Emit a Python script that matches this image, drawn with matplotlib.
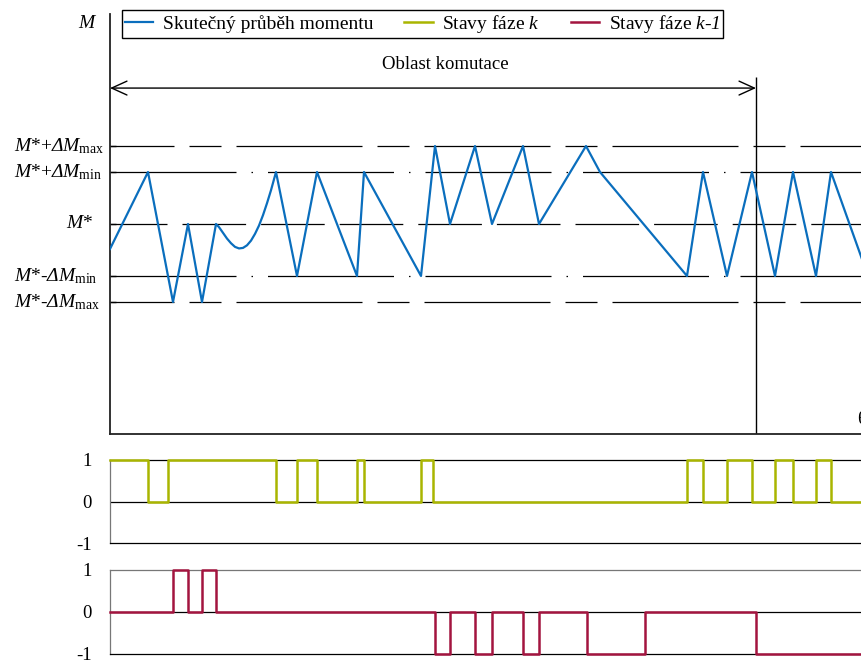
import matplotlib
matplotlib.use('Agg')
import matplotlib.pyplot as plt
from matplotlib.lines import Line2D
from matplotlib.transforms import blended_transform_factory

plt.rcParams['font.family'] = ['Liberation Serif', 'DejaVu Serif']
# italic for math symbols (incl. capital Greek), upright serif via \mathsf for subscripts
plt.rcParams['mathtext.fontset'] = 'custom'
plt.rcParams['mathtext.rm'] = 'Liberation Serif:italic'
plt.rcParams['mathtext.it'] = 'Liberation Serif:italic'
plt.rcParams['mathtext.sf'] = 'Liberation Serif'
plt.rcParams['lines.scale_dashes'] = False

# torque waveform, theta in drawing units, torque in multiples of dM_min around M*
theta_m = [0, 38, 63, 78, 92, 106, 109, 113, 117, 121, 125, 129, 133, 137, 141, 145, 149,
           153, 157, 161, 166,
           187, 207, 247, 254, 311, 325, 340, 365, 382, 413, 429, 476, 490,
           577, 593, 617, 642, 665, 683, 706, 721, 758]
torque = [-0.48, 1.0, -1.5, 0.0, -1.5, 0.0, -0.06, -0.17, -0.28, -0.37, -0.44, -0.47, -0.46, -0.41, -0.32, -0.19, -0.03,
          0.17, 0.4, 0.65, 1.0,
          -1.0, 1.0, -1.0, 1.0, -1.0, 1.5, 0.0, 1.5, 0.0, 1.5, 0.0, 1.5, 1.0,
          -1.0, 1.0, -1.0, 1.0, -1.0, 1.0, -1.0, 1.0, -1.0]

# switching states of phase k and phase k-1 (value holds from each switching point)
theta_k = [0, 38, 58, 166, 187, 207, 247, 254, 311, 323, 577, 593, 617, 642, 665, 683, 706, 721, 752]
state_k = [1, 0, 1, 0, 1, 0, 1, 0, 1, 0, 1, 0, 1, 0, 1, 0, 1, 0, 0]
theta_k1 = [0, 63, 78, 92, 106, 325, 340, 365, 382, 413, 429, 477, 535, 646, 752]
state_k1 = [0, 1, 0, 1, 0, -1, 0, -1, 0, -1, 0, -1, 0, -1, -1]

dM_min = 1.0
dM_max = 1.5
theta_end = 752
comm_end = 646

levels = [dM_max, dM_min, 0.0, -dM_min, -dM_max]
level_labels = [r'$M$*+$\Delta M_{\mathsf{max}}$',
                r'$M$*+$\Delta M_{\mathsf{min}}$',
                r'$M$*',
                r'$M$*-$\Delta M_{\mathsf{min}}$',
                r'$M$*-$\Delta M_{\mathsf{max}}$']

px = 0.72  # points per pixel at dpi 100
dash_max = (62 * px, (126 * px, 15 * px, 32 * px, 15 * px))
dash_min = (0, (126 * px, 15 * px, 1.5 * px, 15 * px))
dash_mid = (6.6 * px, (63.6 * px, 15 * px))
level_styles = [dash_max, dash_min, dash_mid, dash_min, dash_max]

c_torque = '#0a6ebd'
c_k = '#a9b500'
c_k1 = '#a3143f'

W, H = 862, 660
fig = plt.figure(figsize=(W / 100, H / 100), dpi=100)

ax = fig.add_axes([110 / W, 1 - 434 / H, 752 / W, 420 / H])
ax1 = fig.add_axes([110 / W, 1 - 543 / H, 752 / W, 83 / H])
ax2 = fig.add_axes([110 / W, 1 - 654 / H, 752 / W, 84 / H])

# main plot: tolerance band lines and torque
for lev, ls in zip(levels, level_styles):
    ax.plot([0, theta_end], [lev, lev], color='black', lw=0.9, linestyle=ls,
            dash_capstyle='butt', zorder=1)
ax.plot(theta_m, torque, color=c_torque, lw=1.6, zorder=3)

ax.set_xlim(0, theta_end)
ax.set_ylim(-4.04, 4.04)
for s in ['top', 'right']:
    ax.spines[s].set_visible(False)
for s in ['left', 'bottom']:
    ax.spines[s].set_color('#222222')
    ax.spines[s].set_linewidth(1.3)
ax.set_xticks([])
ax.set_yticks(levels)
ax.tick_params(axis='y', direction='in', length=4, width=1, labelleft=False)

trans = blended_transform_factory(fig.transFigure, ax.transData)
for lev, lab in zip(levels, level_labels):
    x0 = 66 / W if lev == 0 else 14 / W
    ax.text(x0, lev, lab, transform=trans, ha='left', va='center', fontsize=14)

fig.text(88 / W, 1 - 23 / H, r'$M$', ha='center', va='center', fontsize=14)
fig.text(857 / W, 1 - 420 / H, 'θ', ha='left', va='center', fontsize=14)

# commutation region
ax.vlines(comm_end, -4.04, 2.83, color='black', lw=1, zorder=2)
ax.annotate('', xy=(0, 2.615), xytext=(comm_end, 2.615),
            arrowprops=dict(arrowstyle='<->,head_length=1.1,head_width=0.5',
                            lw=1, color='black', shrinkA=0, shrinkB=0))
ax.text(comm_end / 2 + 12, 3.06, 'Oblast komutace', ha='center', va='center', fontsize=13.5)

# phase states
for a, th, st, col, topc in [(ax1, theta_k, state_k, c_k, 'black'),
                             (ax2, theta_k1, state_k1, c_k1, '#777777')]:
    a.axhline(0, color='black', lw=0.9, zorder=1)
    a.step(th, st, where='post', color=col, lw=1.8, clip_on=False, zorder=3)
    a.set_xlim(0, theta_end)
    a.set_ylim(-1, 1)
    a.spines['right'].set_visible(False)
    a.spines['left'].set_color('#777777')
    a.spines['top'].set_color(topc)
    a.spines['bottom'].set_color('black')
    for s in ['left', 'top', 'bottom']:
        a.spines[s].set_linewidth(0.9)
    a.set_xticks([])
    a.set_yticks([-1, 0, 1])
    a.set_yticklabels(['-1', '0', '1'], fontsize=13.5)
    a.tick_params(axis='y', length=0, pad=13)

handles = [Line2D([], [], color=c_torque, lw=1.6),
           Line2D([], [], color=c_k, lw=1.8),
           Line2D([], [], color=c_k1, lw=1.8)]
labels = ['Skutečný průběh momentu', r'Stavy fáze $k$', r'Stavy fáze $k$-$1$']
leg = fig.legend(handles, labels, loc='upper left', bbox_to_anchor=(122 / W, 1 - 10 / H),
                 ncol=3, fontsize=14, frameon=True, fancybox=False, framealpha=1,
                 edgecolor='black', borderpad=0.15, handlelength=1.45, handletextpad=0.5,
                 columnspacing=1.6, borderaxespad=0)
leg.get_frame().set_linewidth(1.0)

fig.savefig('out.png', dpi=100)
